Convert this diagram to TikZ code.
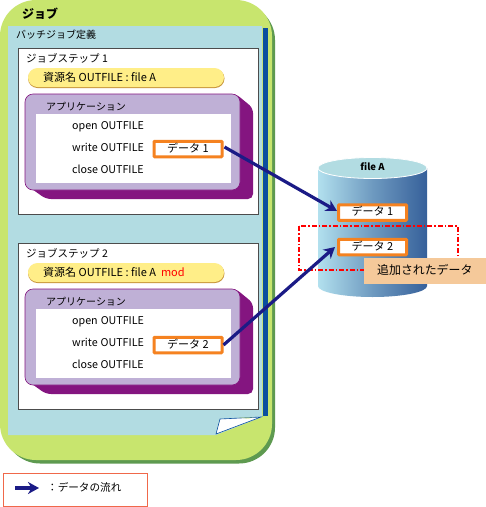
\documentclass[tikz,border=0pt]{standalone}
\usepackage{fontspec}
\setmainfont{Noto Sans CJK JP}
\usetikzlibrary{arrows.meta,calc}
\definecolor{jobgreen}{HTML}{C8E56E}
\definecolor{jobshadow}{HTML}{5E9A50}
\definecolor{defblue}{HTML}{B2DCE2}
\definecolor{barblue}{HTML}{0B4F9E}
\definecolor{pillyellow}{HTML}{FFEE88}
\definecolor{pillshadow}{HTML}{C8963C}
\definecolor{applight}{HTML}{BFB0D6}
\definecolor{appdark}{HTML}{841580}
\definecolor{dataorange}{HTML}{F58220}
\definecolor{arrownavy}{HTML}{1B1B86}
\definecolor{cylleft}{HTML}{B2E0EE}
\definecolor{cylright}{HTML}{36609A}
\definecolor{peach}{HTML}{F5C99A}
\definecolor{legendline}{HTML}{F0684A}
\tikzset{
  lbl/.style={inner sep=0pt,anchor=west,text height=8pt,text depth=2pt,font=\fontsize{10.7}{12}\selectfont},
  stepbox/.style={draw=black!70,fill=white,line width=1pt},
  databox/.style={draw=dataorange,fill=white,line width=3pt,rounded corners=0.8pt,minimum width=68pt,minimum height=15.5pt,inner sep=0pt,text height=8pt,text depth=2pt,font=\fontsize{11}{12}\selectfont},
  flow/.style={draw=arrownavy,line width=3.2pt,-{Stealth[length=11pt,width=12pt,inset=3.5pt]}},
}
\newcommand{\jobstep}[3]{% #1 y-offset #2 step label #3 pill text
  \begin{scope}[yshift=-#1pt]
    \draw[stepbox] (18,48) rectangle (258,214);
    \node[lbl,font=\fontsize{10.5}{12}\selectfont] at (26,59) {#2};
    \fill[pillshadow,rounded corners=9.5pt] (28,69) rectangle (224.5,88);
    \fill[pillyellow,rounded corners=9.5pt] (28,68) rectangle (224,87);
    \node[lbl,font=\fontsize{11}{12}\selectfont] at (43,78) {#3};
    \fill[appdark,rounded corners=5pt] (36,94) -- (236,94) -- (253,108) -- (253,199) -- (46,199) -- (25,184) -- cycle;
    \fill[applight,draw=appdark,line width=0.6pt,rounded corners=8pt] (25,94) -- (240,94) -- (240,190) -- (25,190) -- cycle;
    \fill[white] (36,114) rectangle (231,183);
    \node[lbl,font=\fontsize{10}{12}\selectfont] at (46,107) {アプリケーション};
    \node[lbl] at (72,126) {open\hspace{3pt}OUTFILE};
    \node[lbl] at (72,148) {write\hspace{3pt}OUTFILE};
    \node[lbl] at (72,170) {close OUTFILE};
  \end{scope}
}
\begin{document}
\begin{tikzpicture}[x=1pt,y=-1pt]
\useasboundingbox (0,0) rectangle (486,507);
\fill[white] (0,0) rectangle (486,507);
% job frame
\fill[jobshadow,rounded corners=36pt] (4,4) rectangle (275,463.5);
\fill[jobgreen,rounded corners=36pt] (0,0) rectangle (272,460);
\node[lbl,font=\fontsize{12}{13}\selectfont\bfseries] (job) at (22,15) {ジョブ};
% batch definition
\fill[defblue] (8,26) -- (262,26) -- (262,417) -- (216,435) -- (8,435) -- cycle;
\fill[barblue] (262.5,28) rectangle (267.5,416);
\draw[barblue,fill=white,line width=0.6pt] (261,417) -- (220,419) -- (216,434) -- cycle;
\fill[jobgreen] (238,417.5) -- (254,417.5) -- (248,418.5) -- cycle;
\node[lbl,font=\fontsize{10}{12}\selectfont] (def) at (16,35) {バッチジョブ定義};
\jobstep{0}{ジョブステップ 1}{資源名 OUTFILE : file A}
\jobstep{195}{ジョブステップ 2}{資源名 OUTFILE : file A\hspace{5pt}\textcolor{red}{mod}}
\node[databox] (d1) at (188,149) {データ 1\hspace{8pt}};
\node[databox] (d2) at (188,345) {データ 2\hspace{8pt}};
% cylinder
\path[left color=cylleft,right color=cylright,middle color=cylleft!45!cylright]
  (318,168) -- (318,286) arc[start angle=180,end angle=360,x radius=54.5pt,y radius=11pt] -- (427,168) -- cycle;
\draw[white,line width=0.8pt,fill=defblue] (372.5,168) ellipse[x radius=54.5pt,y radius=10.5pt];
\node[inner sep=0pt,font=\fontsize{9.5}{11}\selectfont\bfseries] (fa) at (372.5,167) {file A};
\node[databox] (c1) at (372.5,212.5) {データ 1};
\node[databox] (c2) at (372.5,247) {データ 2};
% added region
\draw[red,line width=1.4pt,dash pattern=on 5pt off 2pt on 1.5pt off 2pt] (299,226) rectangle (458,270);
\node[fill=peach,inner sep=0pt,minimum width=122pt,minimum height=26pt,anchor=north west] (add) at (364,258) {};
\node[lbl,font=\fontsize{11.9}{13}\selectfont] at (377,271) {追加されたデータ};
% flows
\draw[flow] ([xshift=1pt,yshift=2pt]d1.east) -- ([yshift=1.5pt]c1.west);
\draw[flow] (d2.east) -- ([xshift=-2pt]c2.west);
% legend
\node[draw=legendline,fill=white,line width=0.9pt,minimum width=144pt,minimum height=33pt,inner sep=0pt,anchor=north west] (leg) at (3,473) {};
\coordinate (la) at (15,488);
\coordinate (lb) at (39,488);
\draw[flow] (la) -- (lb);
\node[lbl,font=\fontsize{10.6}{12}\selectfont] at (47,488) {：データの流れ};
\end{tikzpicture}
\end{document}
